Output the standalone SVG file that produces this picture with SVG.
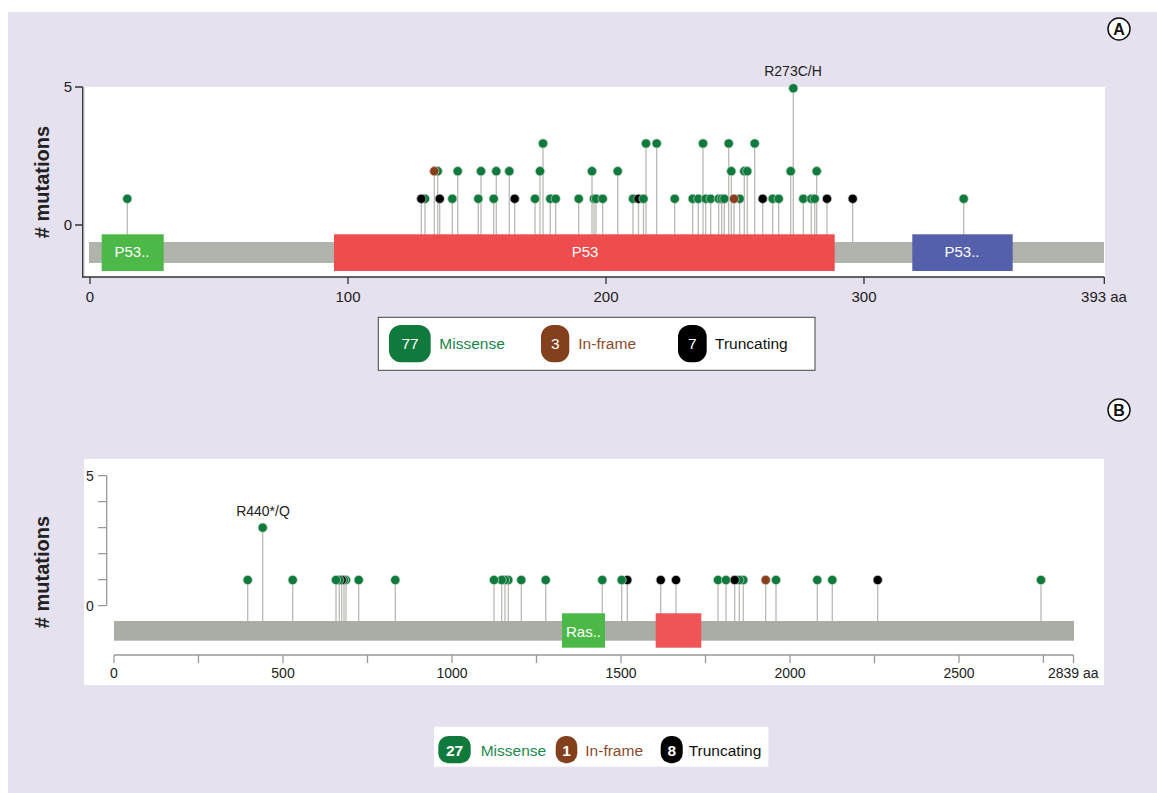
<svg xmlns="http://www.w3.org/2000/svg" width="1157" height="793" viewBox="0 0 1157 793">
<style>
text{font-family:"Liberation Sans",Arial,sans-serif}
.ax{fill:#222;font-size:15px}
.axb{fill:#222;font-size:14px}
.stem{stroke:#b9bbb4;stroke-width:1.3;fill:none}
.m{fill:#0e7a3c;stroke:#c9d3c8;stroke-width:0.7}
.f{fill:#8a3f1c;stroke:#d3c6c0;stroke-width:0.7}
.t{fill:#000;stroke:#c8c8c8;stroke-width:0.7}
.dom{font-size:15px;fill:#fff;text-anchor:middle}
.ylab{font-size:20px;font-weight:bold;fill:#222;text-anchor:middle}
.leg{font-size:15.5px}
</style>
<rect x="0" y="0" width="1157" height="793" fill="#fff"/>
<rect x="8" y="12" width="1149" height="781" fill="#e6e1ef"/>

<!-- Panel A -->
<g id="panelA">
  <g id="labelA">
    <circle cx="1119" cy="29" r="11" fill="#fff" stroke="#111" stroke-width="1.5"/>
    <text x="1119" y="35" font-size="16" font-weight="bold" text-anchor="middle" fill="#111">A</text>
  </g>
  <rect x="85" y="87" width="1020" height="190" fill="#fff"/>
  <text class="ylab" transform="translate(49,182) rotate(-90)"># mutations</text>
  <g id="axesA" stroke="#333" stroke-width="1.3" fill="none">
    <path d="M82.7,87V277H1104.3"/>
    <path d="M75,87H82.7M75,225H82.7"/>
    <path d="M90,277V284M348,277V284M606,277V284M864,277V284M1104.3,277V284"/>
  </g>
  <text class="ax" x="72" y="92" text-anchor="end">5</text>
  <text class="ax" x="72" y="230" text-anchor="end">0</text>
  <text class="ax" x="90" y="302" text-anchor="middle">0</text>
  <text class="ax" x="348" y="302" text-anchor="middle">100</text>
  <text class="ax" x="606" y="302" text-anchor="middle">200</text>
  <text class="ax" x="864" y="302" text-anchor="middle">300</text>
  <text class="ax" x="1104" y="302" text-anchor="middle">393 aa</text>
  <text x="793" y="76" font-size="14" fill="#222" text-anchor="middle">R273C/H</text>

  <g id="stemsA" class="stem">
    <path d="M127.3,198.8V242M425,198.8V242M421.3,198.8V242M437.7,171.2V242M434.3,171.2V242M439.7,198.8V242M452.3,198.8V242M457.7,171.2V242M478.3,198.8V242M481,171.2V242M493.7,198.8V242M496.3,171.2V242M509.3,171.2V242M514.7,198.8V242M535,198.8V242M540,171.2V242M543,143.5V242M550.3,198.8V242M555.7,198.8V242M578.7,198.8V242M592,171.2V242M594,198.8V242M596,198.8V242M602.7,198.8V242M617.7,171.2V242M633,198.8V242M638.5,198.8V242M643.5,198.8V242M646,143.5V242M656.7,143.5V242M674.7,198.8V242M692.7,198.8V242M698.3,198.8V242M703,143.5V242M705.7,198.8V242M710.7,198.8V242M718.7,198.8V242M721.7,198.8V242M724.3,198.8V242M728.7,143.5V242M731.3,171.2V242M739.7,198.8V242M734,198.8V242M744.3,171.2V242M747.3,171.2V242M754.7,143.5V242M762.7,198.8V242M772.7,198.8V242M778.7,198.8V242M790.7,171.2V242M793.3,88.3V242M803.3,198.8V242M811.3,198.8V242M814.7,198.8V242M816.7,171.2V242M827,198.8V242M852.7,198.8V242M963.7,198.8V242"/>
  </g>
  <g id="proteinA">
    <rect x="89" y="242" width="1015" height="21" fill="#b1b4ad"/>
    <g id="domA1"><rect x="101.7" y="234.3" width="62" height="36.7" fill="#4cb848"/><text class="dom" x="132" y="257">P53..</text></g>
    <g id="domA2"><rect x="334" y="234.3" width="500.7" height="36.7" fill="#ef4c4e"/><text class="dom" x="585" y="257">P53</text></g>
    <g id="domA3"><rect x="912.3" y="234.3" width="100.4" height="36.7" fill="#5560ac"/><text class="dom" x="962" y="257">P53..</text></g>
  </g>
  <g id="dotsA">
    <circle class="m" cx="127.3" cy="198.8" r="4.6"/>
    <circle class="m" cx="425" cy="198.8" r="4.6"/>
    <circle class="t" cx="421.3" cy="198.8" r="4.6"/>
    <circle class="m" cx="437.7" cy="171.2" r="4.6"/>
    <circle class="f" cx="434.3" cy="171.2" r="4.6"/>
    <circle class="t" cx="439.7" cy="198.8" r="4.6"/>
    <circle class="m" cx="452.3" cy="198.8" r="4.6"/>
    <circle class="m" cx="457.7" cy="171.2" r="4.6"/>
    <circle class="m" cx="478.3" cy="198.8" r="4.6"/>
    <circle class="m" cx="481" cy="171.2" r="4.6"/>
    <circle class="m" cx="493.7" cy="198.8" r="4.6"/>
    <circle class="m" cx="496.3" cy="171.2" r="4.6"/>
    <circle class="m" cx="509.3" cy="171.2" r="4.6"/>
    <circle class="t" cx="514.7" cy="198.8" r="4.6"/>
    <circle class="m" cx="535" cy="198.8" r="4.6"/>
    <circle class="m" cx="540" cy="171.2" r="4.6"/>
    <circle class="m" cx="543" cy="143.5" r="4.6"/>
    <circle class="m" cx="550.3" cy="198.8" r="4.6"/>
    <circle class="m" cx="555.7" cy="198.8" r="4.6"/>
    <circle class="m" cx="578.7" cy="198.8" r="4.6"/>
    <circle class="m" cx="592" cy="171.2" r="4.6"/>
    <circle class="m" cx="594" cy="198.8" r="4.6"/>
    <circle class="m" cx="596" cy="198.8" r="4.6"/>
    <circle class="m" cx="602.7" cy="198.8" r="4.6"/>
    <circle class="m" cx="617.7" cy="171.2" r="4.6"/>
    <circle class="m" cx="633" cy="198.8" r="4.6"/>
    <circle class="t" cx="638.5" cy="198.8" r="4.6"/>
    <circle class="m" cx="643.5" cy="198.8" r="4.6"/>
    <circle class="m" cx="646" cy="143.5" r="4.6"/>
    <circle class="m" cx="656.7" cy="143.5" r="4.6"/>
    <circle class="m" cx="674.7" cy="198.8" r="4.6"/>
    <circle class="m" cx="692.7" cy="198.8" r="4.6"/>
    <circle class="m" cx="698.3" cy="198.8" r="4.6"/>
    <circle class="m" cx="703" cy="143.5" r="4.6"/>
    <circle class="m" cx="705.7" cy="198.8" r="4.6"/>
    <circle class="m" cx="710.7" cy="198.8" r="4.6"/>
    <circle class="m" cx="718.7" cy="198.8" r="4.6"/>
    <circle class="m" cx="721.7" cy="198.8" r="4.6"/>
    <circle class="m" cx="724.3" cy="198.8" r="4.6"/>
    <circle class="m" cx="728.7" cy="143.5" r="4.6"/>
    <circle class="m" cx="731.3" cy="171.2" r="4.6"/>
    <circle class="m" cx="739.7" cy="198.8" r="4.6"/>
    <circle class="f" cx="734" cy="198.8" r="4.6"/>
    <circle class="m" cx="744.3" cy="171.2" r="4.6"/>
    <circle class="m" cx="747.3" cy="171.2" r="4.6"/>
    <circle class="m" cx="754.7" cy="143.5" r="4.6"/>
    <circle class="t" cx="762.7" cy="198.8" r="4.6"/>
    <circle class="m" cx="772.7" cy="198.8" r="4.6"/>
    <circle class="m" cx="778.7" cy="198.8" r="4.6"/>
    <circle class="m" cx="790.7" cy="171.2" r="4.6"/>
    <circle class="m" cx="793.3" cy="88.3" r="4.6"/>
    <circle class="m" cx="803.3" cy="198.8" r="4.6"/>
    <circle class="m" cx="811.3" cy="198.8" r="4.6"/>
    <circle class="m" cx="814.7" cy="198.8" r="4.6"/>
    <circle class="m" cx="816.7" cy="171.2" r="4.6"/>
    <circle class="t" cx="827" cy="198.8" r="4.6"/>
    <circle class="t" cx="852.7" cy="198.8" r="4.6"/>
    <circle class="m" cx="963.7" cy="198.8" r="4.6"/>
  </g>
  <g id="legendA">
    <rect x="378.3" y="317.3" width="436.7" height="53" fill="#fff" stroke="#444" stroke-width="1"/>
    <rect x="389" y="325" width="41.7" height="37.3" rx="12" fill="#0f7a3b"/>
    <text class="leg" x="410" y="349" fill="#fff" text-anchor="middle">77</text>
    <text class="leg" x="439.3" y="349" fill="#1b8549">Missense</text>
    <rect x="541" y="325" width="28.3" height="37.3" rx="12" fill="#83401c"/>
    <text class="leg" x="555.2" y="349" fill="#fff" text-anchor="middle">3</text>
    <text class="leg" x="578.3" y="349" fill="#8b4a2c">In-frame</text>
    <rect x="678" y="325" width="28.7" height="37.3" rx="12" fill="#000"/>
    <text class="leg" x="692.3" y="349" fill="#fff" text-anchor="middle">7</text>
    <text class="leg" x="715" y="349" fill="#111">Truncating</text>
  </g>
</g>

<!-- Panel B -->
<g id="panelB">
  <g id="labelB">
    <circle cx="1119" cy="410" r="11" fill="#fff" stroke="#111" stroke-width="1.5"/>
    <text x="1119" y="416" font-size="16" font-weight="bold" text-anchor="middle" fill="#111">B</text>
  </g>
  <rect x="84" y="459" width="1020" height="226" fill="#fff"/>
  <text class="ylab" transform="translate(49,572) rotate(-90)"># mutations</text>
  <g id="axesB" stroke="#999" stroke-width="1.3" fill="none">
    <path d="M106.7,475.7V605.7"/>
    <path d="M98,475.7H106.7M98,501.7H106.7M98,527.7H106.7M98,553.7H106.7M98,579.7H106.7M98,605.7H106.7"/>
    <path d="M114,655H1073.5"/>
    <path d="M114,655V663M198.5,655V663M283,655V663M367.5,655V663M452,655V663M536.5,655V663M621,655V663M705.5,655V663M790,655V663M874.5,655V663M959,655V663M1043.4,655V663M1073.5,655V663"/>
  </g>
  <text class="axb" x="90" y="481" text-anchor="middle">5</text>
  <text class="axb" x="90" y="611" text-anchor="middle">0</text>
  <text class="axb" x="114" y="678" text-anchor="middle">0</text>
  <text class="axb" x="283" y="678" text-anchor="middle">500</text>
  <text class="axb" x="452" y="678" text-anchor="middle">1000</text>
  <text class="axb" x="621" y="678" text-anchor="middle">1500</text>
  <text class="axb" x="790" y="678" text-anchor="middle">2000</text>
  <text class="axb" x="959" y="678" text-anchor="middle">2500</text>
  <text class="axb" x="1048" y="678">2839 aa</text>
  <text x="263" y="516" font-size="14" fill="#222" text-anchor="middle">R440*/Q</text>

  <g id="stemsB" class="stem">
    <path d="M247.7,580V621M262.7,527.7V621M292.7,580V621M336,580V621M339.3,580V621M341.7,580V621M344,580V621M346,580V621M358.7,580V621M395.3,580V621M494,580V621M501.7,580V621M505,580V621M508.3,580V621M521.3,580V621M545.7,580V621M602.3,580V621M621.7,580V621M627.3,580V621M660.7,580V621M676,580V621M718,580V621M726,580V621M734.7,580V621M739.3,580V621M743.3,580V621M765.7,580V621M776,580V621M817.3,580V621M832.3,580V621M877.7,580V621M1041,580V621"/>
  </g>
  <g id="proteinB">
    <rect x="114" y="621" width="960" height="19.7" fill="#a9ada6"/>
    <g id="domB1"><rect x="562" y="613.3" width="43" height="34.4" fill="#4cb848"/><text x="583.5" y="637" font-size="15" fill="#fff" text-anchor="middle">Ras..</text></g>
    <g id="domB2"><rect x="655.7" y="613.3" width="45.6" height="34.4" fill="#ef5557"/></g>
  </g>
  <g id="dotsB">
    <circle class="m" cx="247.7" cy="580" r="4.6"/>
    <circle class="m" cx="262.7" cy="527.7" r="4.6"/>
    <circle class="m" cx="292.7" cy="580" r="4.6"/>
    <circle class="m" cx="346" cy="580" r="4.6"/>
    <circle class="m" cx="344" cy="580" r="4.6"/>
    <circle class="t" cx="341.7" cy="580" r="4.6"/>
    <circle class="m" cx="339.3" cy="580" r="4.6"/>
    <circle class="m" cx="336" cy="580" r="4.6"/>
    <circle class="m" cx="358.7" cy="580" r="4.6"/>
    <circle class="m" cx="395.3" cy="580" r="4.6"/>
    <circle class="m" cx="508.3" cy="580" r="4.6"/>
    <circle class="m" cx="505" cy="580" r="4.6"/>
    <circle class="m" cx="501.7" cy="580" r="4.6"/>
    <circle class="m" cx="494" cy="580" r="4.6"/>
    <circle class="m" cx="521.3" cy="580" r="4.6"/>
    <circle class="m" cx="545.7" cy="580" r="4.6"/>
    <circle class="m" cx="602.3" cy="580" r="4.6"/>
    <circle class="t" cx="627.3" cy="580" r="4.6"/>
    <circle class="m" cx="621.7" cy="580" r="4.6"/>
    <circle class="t" cx="660.7" cy="580" r="4.6"/>
    <circle class="t" cx="676" cy="580" r="4.6"/>
    <circle class="m" cx="718" cy="580" r="4.6"/>
    <circle class="m" cx="726" cy="580" r="4.6"/>
    <circle class="m" cx="743.3" cy="580" r="4.6"/>
    <circle class="m" cx="739.3" cy="580" r="4.6"/>
    <circle class="t" cx="734.7" cy="580" r="4.6"/>
    <circle class="f" cx="765.7" cy="580" r="4.6"/>
    <circle class="m" cx="776" cy="580" r="4.6"/>
    <circle class="m" cx="817.3" cy="580" r="4.6"/>
    <circle class="m" cx="832.3" cy="580" r="4.6"/>
    <circle class="t" cx="877.7" cy="580" r="4.6"/>
    <circle class="m" cx="1041" cy="580" r="4.6"/>
  </g>
  <g id="legendB">
    <rect x="434" y="726.7" width="334.3" height="40" fill="#fff"/>
    <rect x="438.3" y="736" width="32.4" height="27.3" rx="10" fill="#0f7a3b"/>
    <text class="leg" x="454.5" y="756" fill="#fff" font-weight="bold" text-anchor="middle">27</text>
    <text class="leg" x="480.7" y="756" fill="#1c8a4f">Missense</text>
    <rect x="555.7" y="736" width="21.6" height="27.3" rx="10" fill="#83401c"/>
    <text class="leg" x="566.5" y="756" fill="#fff" font-weight="bold" text-anchor="middle">1</text>
    <text class="leg" x="585.3" y="756" fill="#8b4a2c">In-frame</text>
    <rect x="660.7" y="736" width="22" height="27.3" rx="10" fill="#000"/>
    <text class="leg" x="671.7" y="756" fill="#fff" font-weight="bold" text-anchor="middle">8</text>
    <text class="leg" x="688.7" y="756" fill="#111">Truncating</text>
  </g>
</g>
</svg>
